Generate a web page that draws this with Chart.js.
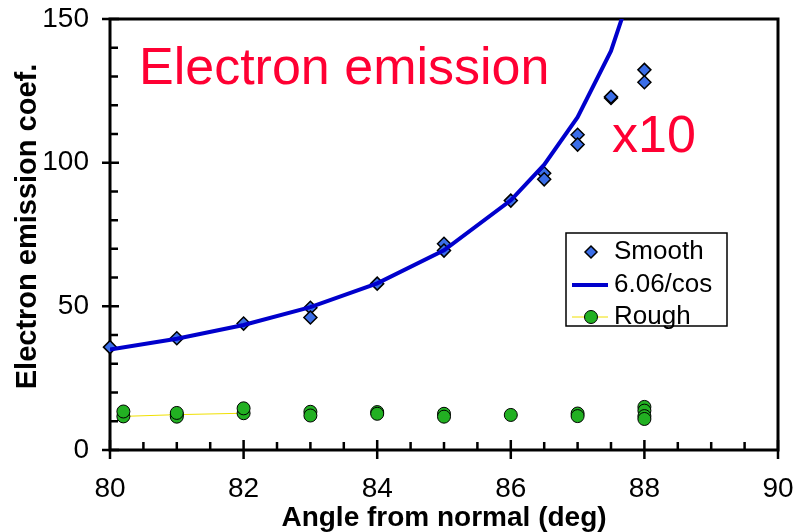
<!DOCTYPE html>
<html lang="en">
<head>
<meta charset="UTF-8">
<title>Electron emission coefficient</title>
<script src="https://cdn.jsdelivr.net/npm/chart.js"></script>
<style>
  html, body { margin: 0; padding: 0; background: #fff; }
</style>
</head>
<body>
<canvas id="grafico" width="803" height="532"></canvas>
<script>
// smooth surface, measured points
const smoothAngle = [80, 81, 82, 83, 83, 84, 85, 85, 86, 86.5, 86.5, 87, 87, 87.5, 87.5, 88, 88];
const smoothCoef = [35.8, 38.9, 44.0, 49.5, 46.1, 57.9, 71.8, 69.4, 86.8, 96.3, 94.2, 109.7, 106.3, 122.5, 122.9, 132.3, 128.0];

// 6.06/cos curve, read at the measured angles
const fitAngle = [80, 81, 82, 83, 84, 85, 86, 86.5, 87, 87.5, 88];
const fitCoef = [35.0, 38.7, 43.5, 49.7, 58.0, 69.5, 86.9, 99.3, 115.8, 138.9, 173.6];

// rough surface (first three points are joined by the thin line)
const roughAngle = [80.2, 81, 82, 80.2, 81, 81, 82, 83, 83, 84, 84, 85, 85, 86, 87, 87, 88, 88, 88, 88];
const roughCoef = [11.7, 12.3, 12.8, 13.4, 11.6, 12.9, 14.5, 13.3, 12.0, 13.2, 12.6, 12.6, 11.6, 12.2, 12.7, 11.8, 15.0, 13.7, 11.8, 10.8];

const xTicks = [80, 82, 84, 86, 88, 90];
const yTicks = [0, 50, 100, 150];

const xMinorStep = 0.5;
const yMinorStep = 10;

const toPoints = (xs, ys) => xs.map((v, i) => ({ x: v, y: ys[i] }));

const BLUE_FILL = '#3b6ee8';
const LINE_BLUE = '#0000cc';
const GREEN = '#22b022';
const RED = '#ff0033';
const FONT = '"Liberation Sans", Arial, sans-serif';

// box, axis ticks (major ones cross the axis, minor ones point inward)
const frame = {
  id: 'frame',
  beforeDatasetsDraw(chart) {
    const { ctx, chartArea: a, scales: { x, y } } = chart;
    ctx.save();
    ctx.strokeStyle = '#000';
    ctx.lineWidth = 3;
    ctx.strokeRect(a.left, a.top, a.right - a.left, a.bottom - a.top);
    ctx.lineWidth = 2.5;
    ctx.beginPath();
    const x0 = xTicks[0], x1 = xTicks[xTicks.length - 1];
    for (let v = x0; v <= x1 + 1e-9; v += xMinorStep) {
      const px = x.getPixelForValue(v);
      const major = xTicks.some(t => Math.abs(t - v) < 1e-9);
      ctx.moveTo(px, a.bottom + (major ? 9 : 0));
      ctx.lineTo(px, a.bottom - (major ? 10 : 8));
    }
    const y0 = yTicks[0], y1 = yTicks[yTicks.length - 1];
    for (let v = y0; v <= y1 + 1e-9; v += yMinorStep) {
      const py = y.getPixelForValue(v);
      const major = yTicks.some(t => Math.abs(t - v) < 1e-9);
      ctx.moveTo(a.left - (major ? 8 : 0), py);
      ctx.lineTo(a.left + (major ? 9 : 8), py);
    }
    ctx.stroke();

    // y axis title, rotated
    ctx.translate(a.left - 82, (a.top + a.bottom) / 2 - 8);
    ctx.rotate(-Math.PI / 2);
    ctx.fillStyle = '#000';
    ctx.font = 'bold 29px ' + FONT;
    ctx.textAlign = 'center';
    ctx.textBaseline = 'middle';
    ctx.fillText('Electron emission coef.', 0, 0);
    ctx.restore();
  }
};

// red captions and the boxed legend
const notes = {
  id: 'notes',
  afterDatasetsDraw(chart) {
    const { ctx, chartArea: a } = chart;
    ctx.save();
    ctx.fillStyle = RED;
    ctx.font = '52px ' + FONT;
    ctx.textBaseline = 'alphabetic';
    ctx.textAlign = 'left';
    ctx.fillText('Electron emission', a.left + 29, a.top + 65);
    ctx.fillText('x10', a.left + 502, a.top + 133);

    // legend box
    const bx = a.left + 456, by = a.top + 214, bw = 161, bh = 93;
    ctx.fillStyle = '#fff';
    ctx.fillRect(bx, by, bw, bh);
    ctx.strokeStyle = '#000';
    ctx.lineWidth = 1.5;
    ctx.strokeRect(bx, by, bw, bh);

    const mx = bx + 25, tx = bx + 48;
    const rows = [by + 19, by + 52, by + 84];
    ctx.font = '26px ' + FONT;
    ctx.textBaseline = 'middle';

    // Smooth: diamond only
    ctx.beginPath();
    ctx.moveTo(mx - 6, rows[0]);
    ctx.lineTo(mx, rows[0] - 6);
    ctx.lineTo(mx + 6, rows[0]);
    ctx.lineTo(mx, rows[0] + 6);
    ctx.closePath();
    ctx.fillStyle = BLUE_FILL;
    ctx.fill();
    ctx.lineWidth = 1.5;
    ctx.strokeStyle = '#000';
    ctx.stroke();

    // 6.06/cos: line only
    ctx.beginPath();
    ctx.moveTo(bx + 6, rows[1]);
    ctx.lineTo(bx + 42, rows[1]);
    ctx.lineWidth = 4;
    ctx.strokeStyle = LINE_BLUE;
    ctx.stroke();

    // Rough: thin yellow line with circle
    ctx.beginPath();
    ctx.moveTo(bx + 6, rows[2]);
    ctx.lineTo(bx + 42, rows[2]);
    ctx.lineWidth = 1;
    ctx.strokeStyle = '#f0e000';
    ctx.stroke();
    ctx.beginPath();
    ctx.arc(mx, rows[2], 6.5, 0, Math.PI * 2);
    ctx.fillStyle = GREEN;
    ctx.fill();
    ctx.lineWidth = 1;
    ctx.strokeStyle = '#000';
    ctx.stroke();

    ctx.fillStyle = '#000';
    ctx.fillText('Smooth', tx, rows[0]);
    ctx.fillText('6.06/cos', tx, rows[1]);
    ctx.fillText('Rough', tx, rows[2]);
    ctx.restore();
  }
};

new Chart(document.getElementById('grafico'), {
  type: 'scatter',
  data: {
    datasets: [
      {
        label: 'Rough',
        data: toPoints(roughAngle, roughCoef),
        showLine: true,
        borderWidth: 1,
        borderColor: '#f0e000',
        segment: {
          borderColor: c => c.p0DataIndex < 2 ? '#f0e000' : 'rgba(0,0,0,0)'
        },
        pointRadius: 6.5,
        pointBackgroundColor: GREEN,
        pointBorderColor: '#000',
        pointBorderWidth: 1,
        clip: false
      },
      {
        label: '6.06/cos',
        data: toPoints(fitAngle, fitCoef),
        showLine: true,
        borderColor: LINE_BLUE,
        borderWidth: 4,
        pointRadius: 0,
        tension: 0
      },
      {
        label: 'Smooth',
        data: toPoints(smoothAngle, smoothCoef),
        pointStyle: 'rectRot',
        pointRadius: 6.5,
        pointBackgroundColor: BLUE_FILL,
        pointBorderColor: '#000',
        pointBorderWidth: 1.5,
        clip: false
      }
    ]
  },
  options: {
    responsive: false,
    animation: false,
    layout: { padding: { left: 0, right: 25, top: 19, bottom: 0 } },
    plugins: {
      legend: { display: false },
      tooltip: { enabled: false }
    },
    scales: {
      x: {
        type: 'linear',
        min: xTicks[0],
        max: xTicks[xTicks.length - 1],
        afterBuildTicks: s => { s.ticks = xTicks.map(v => ({ value: v })); },
        afterFit: s => { s.height = 82; s.paddingLeft = 0; s.paddingRight = 0; },
        grid: { display: false },
        border: { display: false },
        ticks: { color: '#000', font: { family: FONT, size: 28 }, padding: 14 },
        title: {
          display: true,
          text: 'Angle from normal (deg)',
          color: '#000',
          font: { family: FONT, size: 28, weight: 'bold' },
          padding: { top: 0, bottom: -3 }
        }
      },
      y: {
        type: 'linear',
        min: yTicks[0],
        max: yTicks[yTicks.length - 1],
        afterBuildTicks: s => { s.ticks = yTicks.map(v => ({ value: v })); },
        afterFit: s => { s.width = 110; s.paddingTop = 0; s.paddingBottom = 0; },
        grid: { display: false },
        border: { display: false },
        ticks: { color: '#000', font: { family: FONT, size: 28 }, padding: 13 },
        title: { display: false }
      }
    }
  },
  plugins: [frame, notes]
});
</script>
</body>
</html>
